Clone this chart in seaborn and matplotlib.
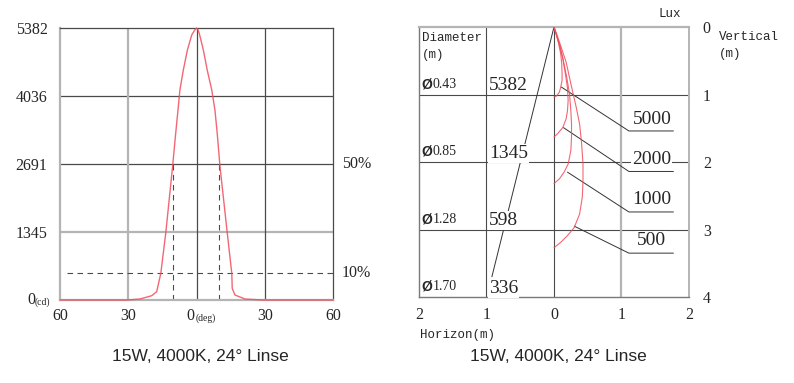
import matplotlib
matplotlib.use("Agg")
import matplotlib.pyplot as plt
import seaborn as sns
import pandas as pd

# left chart: intensity distribution (cd) vs angle (deg)
angles = [-60, -30.7, -24.8, -19.7, -17.5, -15.7, -13.5, -10.5, -9.3, -8.0, -7.3, -5.8, -4.0, -2.1, -0.8, 0,
          0.6, 1.2, 3.0, 4.7, 6.7, 8.1, 9.1, 10.3, 13.5, 15.5, 15.7, 16.9, 21.3, 29.4, 60]
intensity = [0, 0, 20, 85, 164, 528, 1332, 2650, 3231, 3825, 4155, 4551, 4947, 5244, 5340, 5382,
             5350, 5277, 4947, 4551, 4155, 3759, 3298, 2650, 1332, 528, 231, 99, 20, 0, 0]
cd_ticks = [0, 1345, 2691, 4036, 5382]
deg_ticks = [-60, -30, 0, 30, 60]
deg_labels = ["60", "30", "", "30", "60"]
half_angles = [-10.3, 10.0]
level_50 = 2691
level_10 = 538

# right chart: isolux curves, (horizontal m, vertical m)
lux_levels = ["5000", "2000", "1000", "500"]
iso_x = [
    [0, 0.04, 0.08, 0.10, 0.12, 0.12, 0.115, 0.10, 0.07, 0.04, 0],
    [0, 0.054, 0.13, 0.18, 0.20, 0.21, 0.20, 0.17, 0.13, 0.08, 0.04, 0],
    [0, 0.08, 0.15, 0.21, 0.25, 0.26, 0.26, 0.25, 0.23, 0.19, 0.14, 0.09, 0.04, 0],
    [0, 0.10, 0.20, 0.30, 0.38, 0.42, 0.43, 0.43, 0.41, 0.38, 0.33, 0.25, 0.18, 0.10, 0.05, 0],
]
iso_y = [
    [1.04, 1.02, 0.965, 0.89, 0.79, 0.69, 0.55, 0.40, 0.25, 0.13, 0],
    [1.63, 1.58, 1.49, 1.36, 1.24, 1.09, 0.90, 0.70, 0.47, 0.27, 0.13, 0],
    [2.32, 2.25, 2.15, 2.03, 1.83, 1.63, 1.44, 1.24, 0.99, 0.75, 0.50, 0.28, 0.13, 0],
    [3.27, 3.19, 3.09, 2.97, 2.77, 2.52, 2.28, 2.03, 1.73, 1.44, 1.19, 0.84, 0.52, 0.28, 0.13, 0],
]
leader_start = [(0.11, 0.89), (0.14, 1.49), (0.20, 2.15), (0.30, 2.95)]
leader_end_y = [1.54, 2.14, 2.74, 3.35]
label_y = [1.37, 1.96, 2.56, 3.16]
beam_edge = [(0, 0), (-0.92, 3.70)]
depths = [1, 2, 3, 4]
diameters = ["0.43", "0.85", "1.28", "1.70"]
center_lux = ["5382", "1345", "598", "336"]
h_ticks = [-2, -1, 0, 1, 2]
h_labels = ["2", "1", "0", "1", "2"]
v_ticks = [0, 1, 2, 3, 4]

sns.set_theme(style="white")
plt.rcParams["font.family"] = ["Liberation Serif", "DejaVu Serif"]

RED = "#ef4d5c"
DARK = "#4a4a4a"
GRAY = "#b4b4b4"
MONO = ["Liberation Mono", "DejaVu Sans Mono"]
SANS = ["Liberation Sans", "DejaVu Sans"]

fig = plt.figure(figsize=(7.94, 3.83), dpi=100)
fig.patch.set_facecolor("white")

# ---------------- left chart ----------------
ax1 = fig.add_axes([0.0756, 0.2167, 0.3438, 0.7102])
ax1.set_xlim(-60, 60)
ax1.set_ylim(0, 5382)
for y in cd_ticks[1:-1]:
    ax1.axhline(y, color=GRAY if y == 1345 else DARK, lw=1.6 if y == 1345 else 0.9, zorder=1)
for x in deg_ticks[1:-1]:
    ax1.axvline(x, color=GRAY if x == -30 else DARK, lw=1.6 if x == -30 else 0.9, zorder=1)
for side, c, w in [("top", DARK, 0.9), ("right", DARK, 0.9), ("left", GRAY, 1.6), ("bottom", GRAY, 1.6)]:
    ax1.spines[side].set_color(c)
    ax1.spines[side].set_linewidth(w)
ax1.plot([-57, 60], [level_10, level_10], color=DARK, lw=0.8, ls=(0, (5, 4)), zorder=2)
for a in half_angles:
    ax1.plot([a, a], [0, level_50], color=DARK, lw=0.8, ls=(0, (5, 4)), zorder=2)
df_l = pd.DataFrame({"angle": angles, "cd": intensity})
sns.lineplot(data=df_l, x="angle", y="cd", ax=ax1, color=RED, lw=1.0, sort=False,
             estimator=None, zorder=3, clip_on=False, alpha=0.85)
ax1.set_xlabel("")
ax1.set_ylabel("")
ax1.set_yticks(cd_ticks)
ax1.set_yticklabels([""] + [str(v) for v in cd_ticks[1:]], fontsize=11.5)
ax1.set_xticks(deg_ticks)
ax1.set_xticklabels(deg_labels, fontsize=11.5)
ax1.tick_params(axis="y", length=0, pad=9)
ax1.tick_params(axis="x", length=0, pad=6)
ax1.text(-60 - 14.5, 0, "0", fontsize=11.5, ha="left", va="center")
ax1.text(-60 - 11.2, -40, "(cd)", fontsize=7, ha="left", va="center")
ax1.text(-2.5, -310, "0", fontsize=11.5, ha="center", va="center")
ax1.text(4.2, -360, "(deg)", fontsize=7, ha="center", va="center")
ax1.text(64, level_50, "50%", fontsize=11.5, ha="left", va="center")
ax1.text(64, level_10, "10%", fontsize=11.5, ha="left", va="center")
fig.text(0.252, 0.07, "15W, 4000K, 24° Linse", fontsize=12.5, family=SANS, ha="center", va="center")

# ---------------- right chart ----------------
ax2 = fig.add_axes([0.5277, 0.2245, 0.340, 0.705])
ax2.set_xlim(-2, 2)
ax2.set_ylim(4, 0)
for d in depths[:-1]:
    ax2.axhline(d, color=DARK, lw=0.8, zorder=1)
for x in h_ticks[1:-1]:
    ax2.axvline(x, color=GRAY if x == 1 else DARK, lw=1.6 if x == 1 else 0.8, zorder=1)
for side, c, w in [("top", GRAY, 1.6), ("right", GRAY, 1.4), ("left", "#7a7a7a", 1.0), ("bottom", "#7a7a7a", 1.0)]:
    ax2.spines[side].set_color(c)
    ax2.spines[side].set_linewidth(w)
ax2.plot([p[0] for p in beam_edge], [p[1] for p in beam_edge], color="#333333", lw=0.7, zorder=2)
for i, lvl in enumerate(lux_levels):
    df_c = pd.DataFrame({"h": iso_x[i], "v": iso_y[i]})
    sns.lineplot(data=df_c, x="h", y="v", ax=ax2, color=RED, lw=0.8, sort=False,
                 estimator=None, zorder=3, alpha=0.85)
    sx, sy = leader_start[i]
    ax2.plot([sx, 1.11, 1.77], [sy, leader_end_y[i], leader_end_y[i]], color="#333333", lw=0.7, zorder=2)
    ax2.text(1.45, label_y[i], lvl, fontsize=14, ha="center", va="center", zorder=4,
             bbox=dict(facecolor="white", edgecolor="none", pad=0.5))
ax2.set_xlabel("")
ax2.set_ylabel("")
for i in range(4):
    yy = depths[i] - 0.15
    ax2.text(-1.965, yy, "Ø", fontsize=10, family=SANS, fontweight="bold", ha="left", va="center", zorder=4)
    ax2.text(-1.80, yy, diameters[i], fontsize=10, ha="left", va="center", zorder=4)
    ax2.text(-0.96, yy + 0.02, center_lux[i], fontsize=14, ha="left", va="center", zorder=4,
             bbox=dict(facecolor="white", edgecolor="none", pad=0.5))
ax2.text(-1.955, 0.17, "Diameter", fontsize=9, family=MONO, ha="left", va="center")
ax2.text(-1.955, 0.42, "(m)", fontsize=9, family=MONO, ha="left", va="center")
ax2.set_xticks(h_ticks)
ax2.set_xticklabels(h_labels, fontsize=11.5)
ax2.yaxis.tick_right()
ax2.set_yticks(v_ticks)
ax2.set_yticklabels([str(v) for v in v_ticks], fontsize=11.5)
ax2.tick_params(axis="y", length=0, pad=10)
ax2.tick_params(axis="x", length=0, pad=7)
ax2.text(1.55, -0.2, "Lux", fontsize=9, family=MONO, ha="left", va="center")
ax2.text(2.45, 0.15, "Vertical", fontsize=9, family=MONO, ha="left", va="center")
ax2.text(2.45, 0.40, "(m)", fontsize=9, family=MONO, ha="left", va="center")
ax2.text(-1.98, 4.56, "Horizon(m)", fontsize=9, family=MONO, ha="left", va="center")
fig.text(0.703, 0.068, "15W, 4000K, 24° Linse", fontsize=12.5, family=SANS, ha="center", va="center")

fig.savefig("out.png", dpi=100, facecolor="white")
